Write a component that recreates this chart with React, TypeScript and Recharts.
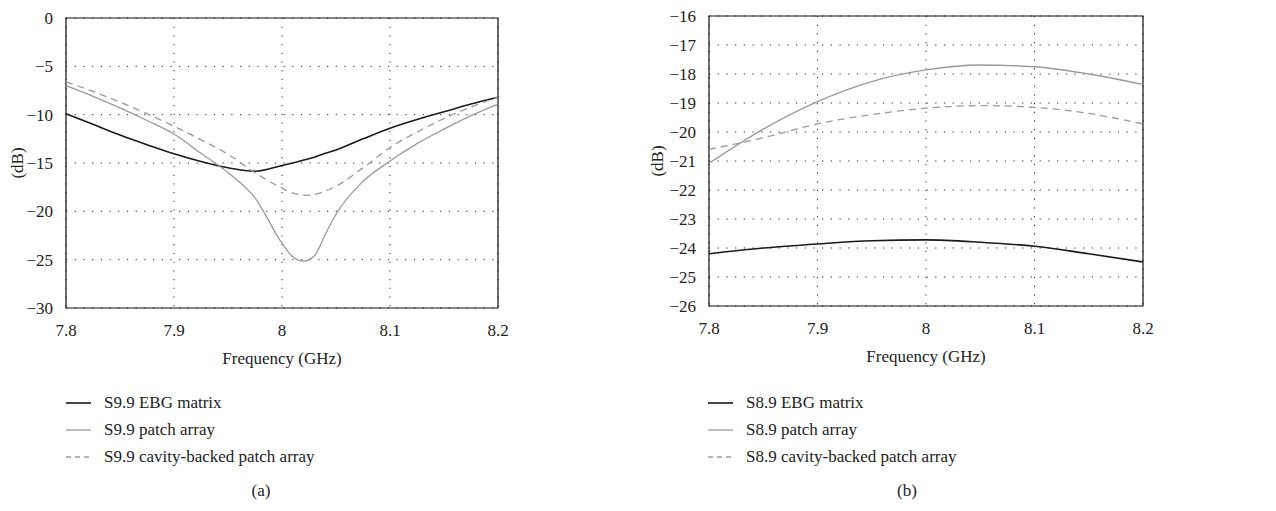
import React from 'react';
import { LineChart, Line, XAxis, YAxis, CartesianGrid, ReferenceArea } from 'recharts';

// panel (a): return loss S9.9
const freqA = [7.8, 7.825, 7.85, 7.875, 7.9, 7.925, 7.95, 7.975, 8.0, 8.01, 8.02, 8.03, 8.04, 8.05, 8.075, 8.1, 8.125, 8.15, 8.175, 8.2];
const ebgA = [-9.9, -11.0, -12.1, -13.1, -14.05, -14.85, -15.5, -15.85, -15.25, -15.0, -14.7, -14.4, -14.0, -13.65, -12.5, -11.4, -10.5, -9.7, -8.9, -8.2];
const patchA = [-7.0, -8.1, -9.3, -10.6, -12.0, -14.0, -16.0, -18.6, -23.3, -24.7, -25.15, -24.6, -22.4, -20.3, -16.9, -14.8, -13.0, -11.5, -10.1, -8.9];
const cavityA = [-6.6, -7.6, -8.7, -9.9, -11.2, -12.6, -14.1, -16.0, -17.6, -18.1, -18.35, -18.25, -17.9, -17.4, -15.5, -13.4, -11.8, -10.4, -9.2, -8.2];

// panel (b): coupling S8.9
const freqB = [7.8, 7.85, 7.9, 7.95, 8.0, 8.05, 8.1, 8.15, 8.2];
const ebgB = [-24.2, -24.0, -23.86, -23.75, -23.72, -23.8, -23.94, -24.2, -24.48];
const patchB = [-21.08, -19.9, -18.95, -18.26, -17.86, -17.69, -17.75, -18.0, -18.36];
const cavityB = [-20.6, -20.2, -19.72, -19.4, -19.18, -19.09, -19.15, -19.36, -19.72];

const xTicks = [7.8, 7.9, 8, 8.1, 8.2];
const yTicksA = [0, -5, -10, -15, -20, -25, -30];
const yTicksB = [-16, -17, -18, -19, -20, -21, -22, -23, -24, -25, -26];

const legendA = ['S9.9 EBG matrix', 'S9.9 patch array', 'S9.9 cavity-backed patch array'];
const legendB = ['S8.9 EBG matrix', 'S8.9 patch array', 'S8.9 cavity-backed patch array'];

const FONT = '"Liberation Serif", "DejaVu Serif", serif';
const tickStyle = { fontSize: 17, fill: '#222', fontFamily: FONT };

const styles = [
  { stroke: '#1a1a1a', width: 1.6, dash: undefined },
  { stroke: '#9a9a9a', width: 1.3, dash: undefined },
  { stroke: '#9a9a9a', width: 1.3, dash: '7 5' },
];

const fmt = (v: number) => (v < 0 ? '\u2212' + Math.abs(v) : String(v));

interface PanelProps {
  left: number;
  freq: number[];
  series: number[][];
  yTicks: number[];
  legend: string[];
  caption: string;
  top: number;
  yAxisWidth: number;
  chartWidth: number;
  legendLeft: number;
  captionX: number;
}

function Panel({ left, freq, series, yTicks, legend, caption, top, yAxisWidth, chartWidth, legendLeft, captionX }: PanelProps) {
  const data = freq.map((f, i) => ({ f, s0: series[0][i], s1: series[1][i], s2: series[2][i] }));
  const yMax = Math.max(...yTicks);
  const yMin = Math.min(...yTicks);
  const chartHeight = top + 290 + 62;
  return (
    <div style={{ position: 'absolute', left, top: 0, width: 636, height: 511, fontFamily: FONT }}>
      <LineChart width={chartWidth} height={chartHeight} data={data} margin={{ top, right: 22, left: 0, bottom: 0 }}>
        <CartesianGrid stroke="#222" strokeDasharray="1.2 7.5" strokeWidth={1} />
        <XAxis
          dataKey="f"
          type="number"
          domain={[7.8, 8.2]}
          ticks={xTicks}
          tickFormatter={(v: number) => String(v)}
          tick={tickStyle}
          tickLine={false}
          axisLine={false}
          tickMargin={10}
          height={62}
          label={{ value: 'Frequency (GHz)', position: 'insideBottom', offset: 6, style: { fontSize: 17, fill: '#222', fontFamily: FONT } }}
        />
        <YAxis
          type="number"
          domain={[yMin, yMax]}
          ticks={yTicks}
          interval={0}
          tickFormatter={fmt}
          tick={tickStyle}
          tickLine={false}
          axisLine={false}
          tickMargin={7}
          width={yAxisWidth}
          label={{
            content: ({ viewBox }: any) => {
              const cx = viewBox.x + 17;
              const cy = viewBox.y + viewBox.height / 2;
              return (
                <text x={cx} y={cy} transform={`rotate(-90 ${cx} ${cy})`} textAnchor="middle" dominantBaseline="central" style={{ fontSize: 17, fill: '#222', fontFamily: FONT }}>
                  (dB)
                </text>
              );
            },
          }}
        />
        <ReferenceArea x1={7.8} x2={8.2} y1={yMin} y2={yMax} fill="none" stroke="#111" strokeWidth={1.2} ifOverflow="visible" />
        {styles.map((s, i) => (
          <Line
            key={i}
            type="monotone"
            dataKey={`s${i}`}
            stroke={s.stroke}
            strokeWidth={s.width}
            strokeDasharray={s.dash}
            dot={false}
            activeDot={false}
            isAnimationActive={false}
          />
        ))}
      </LineChart>
      <div style={{ position: 'absolute', left: legendLeft, top: 389 }}>
        {legend.map((name, i) => (
          <div key={name} style={{ display: 'flex', alignItems: 'center', height: 27, fontSize: 17, color: '#222' }}>
            <svg width={26} height={10} style={{ marginRight: 12 }}>
              <line x1={0} y1={5} x2={25} y2={5} stroke={styles[i].stroke} strokeWidth={styles[i].width} strokeDasharray={styles[i].dash ? '5 4' : undefined} />
            </svg>
            <span>{name}</span>
          </div>
        ))}
      </div>
      <div style={{ position: 'absolute', left: captionX - 50, width: 100, top: 481, textAlign: 'center', fontSize: 17, color: '#222' }}>{caption}</div>
    </div>
  );
}

export default function App() {
  return (
    <div style={{ position: 'absolute', left: 0, top: 0, width: 1276, height: 511, background: '#fff', overflow: 'hidden' }}>
      <Panel left={0} freq={freqA} series={[ebgA, patchA, cavityA]} yTicks={yTicksA} legend={legendA} caption="(a)" top={18} yAxisWidth={66} chartWidth={520} legendLeft={66} captionX={261} />
      <Panel left={640} freq={freqB} series={[ebgB, patchB, cavityB]} yTicks={yTicksB} legend={legendB} caption="(b)" top={16} yAxisWidth={69} chartWidth={525} legendLeft={68} captionX={267} />
    </div>
  );
}
